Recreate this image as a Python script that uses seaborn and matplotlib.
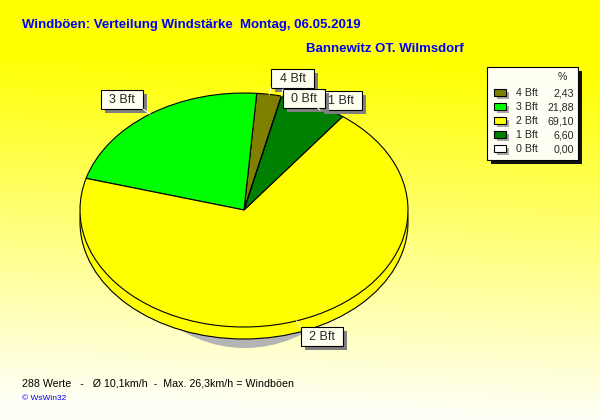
import numpy as np
import matplotlib.pyplot as plt
import seaborn as sns
from matplotlib.patches import Ellipse, Rectangle

# data
categories = ["4 Bft", "3 Bft", "2 Bft", "1 Bft", "0 Bft"]
percent = [2.43, 21.88, 69.10, 6.60, 0.00]
colors = ["#808000", "#00FF00", "#FFFF00", "#008000", "#FFFFFF"]

title = "Windböen: Verteilung Windstärke  Montag, 06.05.2019"
station = "Bannewitz OT. Wilmsdorf"
footer = "288 Werte   -   Ø 10,1km/h  -  Max. 26,3km/h = Windböen"
credit = "© WsWin32"

# label boxes (left, top, right, bottom) in pixels, drawn in this order
label_boxes = {
    "3 Bft": (101, 90, 143, 109),
    "2 Bft": (301, 327, 343, 346),
    "1 Bft": (320, 91, 362, 110),
    "4 Bft": (271, 69, 314, 88),
    "0 Bft": (283, 89, 325, 108),
}

sns.set_style("white")
plt.rcParams['font.family'] = ['Liberation Sans', 'DejaVu Sans']

W, H = 600, 420
cx, cy, rx, ry = 244, 210, 164, 117   # pie top ellipse in pixels
depth = 12

fig = plt.figure(figsize=(6, 4.2), dpi=100)

# background with gradient (yellow on top, almost white at the bottom)
bg = fig.add_axes([0, 0, 1, 1])
bg.set_xlim(0, W)
bg.set_ylim(H, 0)
bg.axis('off')
yy, xx = np.mgrid[0:H, 0:W]
t = np.clip((yy - 70) / 350 + 0.06 * (1 - xx / W) * (yy > 60), 0, 1)
img = np.dstack([np.ones_like(t), np.ones_like(t), 0.97 * t])
bg.imshow(img, extent=(0, W, H, 0), aspect='auto', zorder=0)

# pie axes, stretched so the circle becomes an ellipse
k = 1.35
ax = fig.add_axes([(cx - k * rx) / W, (H - (cy + k * ry)) / H, 2 * k * rx / W, 2 * k * ry / H])
ax.patch.set_alpha(0)

# shadow and side of the 3D pie
ax.add_patch(Ellipse(((245 - cx) / rx, -(222 - cy) / ry), 2 * 125 / rx, 2 * 126 / ry,
                     facecolor="#B4B4B4", edgecolor="none", zorder=0))
ax.add_patch(Ellipse((0, -depth / ry), 2, 2, facecolor="#FFFF00",
                     edgecolor="black", linewidth=0.8, zorder=1))

wedges, _ = ax.pie(percent, colors=colors, startangle=76.8, counterclock=True,
                   wedgeprops=dict(edgecolor="black", linewidth=0.8))
for w in wedges:
    w.set_zorder(2)
ax.set_aspect('auto')
ax.set_xlim(-k, k)
ax.set_ylim(-k, k)
ax.axis('off')

# overlay for text, labels and legend
fg = fig.add_axes([0, 0, 1, 1])
fg.set_xlim(0, W)
fg.set_ylim(H, 0)
fg.axis('off')
fg.patch.set_alpha(0)

fg.text(22, 25, title, color="#0000FF", fontsize=9.5, fontweight="bold", va="center")
fg.text(306, 49, station, color="#0000FF", fontsize=9.5, fontweight="bold", va="center")
fg.text(22, 383, footer, color="black", fontsize=7.7, va="center")
fg.text(22, 399, credit, color="#0000FF", fontsize=6, va="center")

# labels with leader lines
anchors = {}
for name, w in zip(categories, wedges):
    mid = np.deg2rad((w.theta1 + w.theta2) / 2)
    anchors[name] = (cx + rx * np.cos(mid), cy - ry * np.sin(mid))

for name, (l, tp, r, b) in label_boxes.items():
    axp, ayp = anchors[name]
    corners = [(l, tp), (r, tp), (l, b), (r, b)]
    c = min(corners, key=lambda p: (p[0] - axp) ** 2 + (p[1] - ayp) ** 2)
    fg.plot([axp, c[0]], [ayp, c[1]], color="white", linewidth=0.8)
    fg.add_patch(Rectangle((l + 4, tp + 4), r - l, b - tp, facecolor="#808080", edgecolor="none"))
    fg.add_patch(Rectangle((l, tp), r - l, b - tp, facecolor="#FFFFF0", edgecolor="black", linewidth=0.8))
    fg.text((l + r) / 2, (tp + b) / 2 + 0.5, name, fontsize=9, ha="center", va="center")

# legend
lx, ly, lw, lh = 487, 67, 91, 93
fg.add_patch(Rectangle((lx + 4, ly + 4), lw, lh, facecolor="#101010", edgecolor="none"))
fg.add_patch(Rectangle((lx, ly), lw, lh, facecolor="#FFFFF4", edgecolor="black", linewidth=0.8))
fg.text(562, 77, "%", fontsize=7.7, ha="center", va="center")
for i, (name, val, col) in enumerate(zip(categories, percent, colors)):
    y = 93 + 14 * i
    fg.add_patch(Rectangle((497, y - 1), 12, 7, facecolor="#A8A8A8", edgecolor="none"))
    fg.add_patch(Rectangle((494, y - 4), 12, 7, facecolor=col, edgecolor="black", linewidth=0.8))
    fg.text(516, y, name, fontsize=7.7, va="center")
    fg.text(574, y, f"{val:.2f}".replace(".", ","), fontsize=7.7, ha="right", va="center")

fig.savefig("out.png", dpi=100)
